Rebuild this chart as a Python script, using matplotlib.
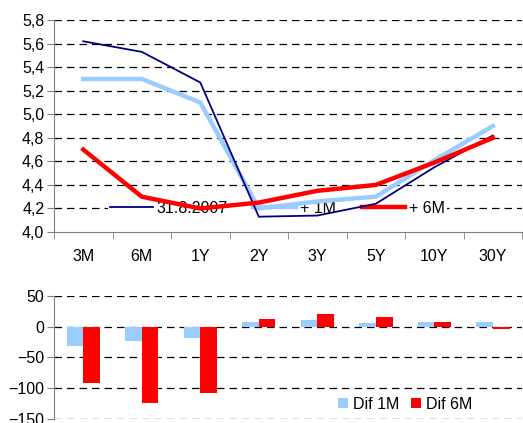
import matplotlib.pyplot as plt
from matplotlib.ticker import FuncFormatter, FixedLocator
import numpy as np

plt.rcParams['font.family'] = ['Liberation Sans', 'DejaVu Sans']

categories = ['3M', '6M', '1Y', '2Y', '3Y', '5Y', '10Y', '30Y']
curve_base = [5.62, 5.53, 5.27, 4.13, 4.14, 4.24, 4.55, 4.82]
curve_1m = [5.30, 5.30, 5.10, 4.20, 4.26, 4.30, 4.61, 4.90]
curve_6m = [4.70, 4.30, 4.20, 4.25, 4.35, 4.40, 4.59, 4.80]
dif_1m = [-32, -24, -18, 7, 11, 6, 8, 8]
dif_6m = [-92, -124, -108, 12, 20, 15, 7, -3]

x = np.arange(len(categories))
dash = (0, (6, 4))
fs = 11.5

fig = plt.figure(figsize=(5.23, 4.23), dpi=100)

# top chart: yield curves
ax1 = fig.add_axes([0.1033, 0.4515, 0.895, 0.501])
for y in np.arange(4.2, 5.81, 0.2):
    ax1.axhline(y, color='black', lw=0.9, ls=dash, zorder=1)
ax1.plot(x, curve_1m, color='#99CCFF', lw=3.2, label='+ 1M', zorder=3)
ax1.plot(x, curve_base, color='#000080', lw=1.3, label='31.8.2007', zorder=4)
ax1.plot(x, curve_6m, color='#FF0000', lw=3.2, label='+ 6M', zorder=5)
ax1.set_xlim(-0.5, len(categories) - 0.5)
ax1.set_ylim(4.0, 5.8)
ax1.set_yticks(np.arange(4.0, 5.81, 0.2))
ax1.yaxis.set_major_formatter(FuncFormatter(lambda v, p: f'{v:.1f}'.replace('.', ',')))
ax1.set_xticks(x)
ax1.set_xticklabels(categories)
ax1.xaxis.set_minor_locator(FixedLocator(np.arange(-0.5, len(categories), 1.0)))
ax1.tick_params(axis='x', which='major', length=0, pad=12, labelsize=fs)
ax1.tick_params(axis='x', which='minor', length=5, color='#808080')
ax1.tick_params(axis='y', length=5, color='#808080', labelsize=fs, pad=2)
for s in ['top', 'right']:
    ax1.spines[s].set_visible(False)
for s in ['left', 'bottom']:
    ax1.spines[s].set_color('#808080')
h, l = ax1.get_legend_handles_labels()
order = [1, 0, 2]
leg = ax1.legend([h[i] for i in order], [l[i] for i in order], ncol=3,
                 loc='center', bbox_to_anchor=(0.477, 0.113), frameon=True,
                 handlelength=2.7, columnspacing=1.6, handletextpad=0.25,
                 fontsize=fs, borderpad=0.1)
leg.get_frame().set_edgecolor('none')
leg.get_frame().set_facecolor('white')
leg.get_frame().set_alpha(1)
leg.set_zorder(2)

# bottom chart: differences
ax2 = fig.add_axes([0.1033, 0.00946, 0.895, 0.291])
for y in [50, 0, -50, -100, -150]:
    ax2.axhline(y, color='black', lw=0.9, ls=dash, zorder=1)
w = 0.285
ax2.bar(x - w / 2, dif_1m, width=w, color='#99CCFF', label='Dif 1M', zorder=2)
ax2.bar(x + w / 2, dif_6m, width=w, color='#FF0000', label='Dif 6M', zorder=2)
ax2.set_xlim(-0.5, len(categories) - 0.5)
ax2.set_ylim(-150, 50)
ax2.set_yticks([50, 0, -50, -100, -150])
ax2.set_xticks([])
ax2.tick_params(axis='y', length=5, color='#808080', labelsize=fs, pad=2)
for s in ['top', 'right', 'bottom']:
    ax2.spines[s].set_visible(False)
ax2.spines['left'].set_color('#808080')
ax2.legend(ncol=2, loc='center', bbox_to_anchor=(0.75, 0.12), frameon=False,
           handlelength=0.65, handleheight=0.65, handletextpad=0.3,
           columnspacing=0.7, fontsize=fs)

fig.savefig('out.png', dpi=100)
